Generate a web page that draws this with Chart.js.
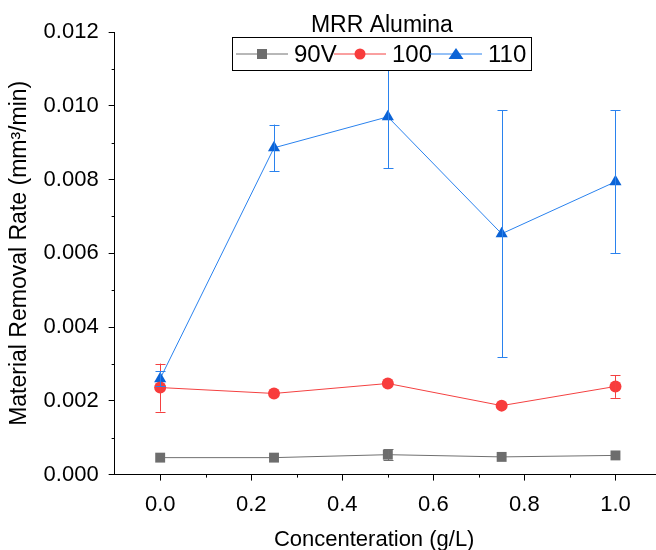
<!DOCTYPE html>
<html>
<head>
<meta charset="utf-8">
<script src="https://cdn.jsdelivr.net/npm/chart.js@4.4.0/dist/chart.umd.min.js"></script>
<style>
  html, body { margin: 0; padding: 0; background: #fff; overflow: hidden; }
  #wrap { width: 656px; height: 550px; overflow: hidden; }
</style>
</head>
<body>
<div id="wrap"><canvas id="mrrChart" width="668" height="550"></canvas></div>
<script>
// concentration values (g/L)
const concentrations = [0.0, 0.25, 0.5, 0.75, 1.0];

// MRR values per voltage (mm3/min)
const mrr90 = [0.00046, 0.00046, 0.00054, 0.00048, 0.00052];
const mrr100 = [0.00236, 0.00220, 0.00247, 0.00187, 0.00239];
const mrr110 = [0.00260, 0.00886, 0.00970, 0.00653, 0.00794];

// error bar half-widths
const err90 = [0, 0, 0.00015, 0, 0];
const err100 = [0.00065, 0, 0, 0, 0.00031];
const err110 = [0.00020, 0.00063, 0.00140, 0.00335, 0.00194];

const xTicks = [0.0, 0.2, 0.4, 0.6, 0.8, 1.0];
const yTicks = [0.000, 0.002, 0.004, 0.006, 0.008, 0.010, 0.012];

const seriesNames = ['90V', '100', '110'];
const legendTitle = 'MRR Alumina';
const xTitle = 'Concenteration (g/L)';

const FONT = "'Liberation Sans', Arial, sans-serif";

function toPoints(vals) {
    return concentrations.map((c, i) => ({ x: c, y: vals[i] }));
}

// draws error bars, minor ticks, x title and the boxed legend
const extrasPlugin = {
    id: 'extras',
    afterDatasetsDraw(chart) {
        const ctx = chart.ctx;
        const xs = chart.scales.x, ys = chart.scales.y;
        const errs = [err90, err100, err110];
        ctx.save();
        chart.data.datasets.forEach((ds, di) => {
            ctx.strokeStyle = ds.borderColor;
            ctx.lineWidth = 1;
            ds.data.forEach((p, i) => {
                const e = errs[di][i];
                if (!e) return;
                const px = Math.round(xs.getPixelForValue(p.x)) + 0.5;
                const top = ys.getPixelForValue(p.y + e);
                const bot = ys.getPixelForValue(p.y - e);
                ctx.beginPath();
                ctx.moveTo(px, top); ctx.lineTo(px, bot);
                ctx.moveTo(px - 5, Math.round(top) + 0.5); ctx.lineTo(px + 5, Math.round(top) + 0.5);
                ctx.moveTo(px - 5, Math.round(bot) + 0.5); ctx.lineTo(px + 5, Math.round(bot) + 0.5);
                ctx.stroke();
            });
        });
        ctx.restore();
    },
    afterDraw(chart) {
        const ctx = chart.ctx;
        const xs = chart.scales.x, ys = chart.scales.y;
        const area = chart.chartArea;
        ctx.save();
        // minor ticks
        ctx.strokeStyle = '#000';
        ctx.lineWidth = 1;
        ctx.beginPath();
        for (let v = 0.001; v < 0.012; v += 0.002) {
            const py = Math.round(ys.getPixelForValue(v)) + 0.5;
            ctx.moveTo(area.left, py); ctx.lineTo(area.left - 3, py);
        }
        for (let v = 0.1; v <= 1.0; v += 0.2) {
            const px = Math.round(xs.getPixelForValue(v)) + 0.5;
            ctx.moveTo(px, area.bottom); ctx.lineTo(px, area.bottom + 3);
        }
        ctx.stroke();

        // x axis title
        ctx.fillStyle = '#000';
        ctx.font = '22px ' + FONT;
        ctx.textAlign = 'center';
        ctx.textBaseline = 'alphabetic';
        ctx.fillText(xTitle, area.left + (area.right - area.left) * 0.475, chart.height - 4);

        // legend
        const cx = (area.left + area.right) / 2 - 6;
        const boxL = Math.round(cx - 149.5), boxT = Math.round(area.top + 5), boxW = 299, boxH = 33;
        ctx.font = '23px ' + FONT;
        ctx.textBaseline = 'middle';
        ctx.fillText(legendTitle, cx, area.top - 6);
        ctx.fillStyle = '#fff';
        ctx.fillRect(boxL, boxT, boxW, boxH);
        ctx.strokeStyle = '#000';
        ctx.strokeRect(boxL + 0.5, boxT + 0.5, boxW, boxH);
        const midY = boxT + boxH / 2 + 0.5;
        const offsets = [4, 102, 198];
        chart.data.datasets.forEach((ds, i) => {
            const x0 = boxL + offsets[i];
            ctx.strokeStyle = ds.borderColor;
            ctx.beginPath();
            ctx.moveTo(x0, midY); ctx.lineTo(x0 + 52, midY);
            ctx.stroke();
            const mx = x0 + 26;
            ctx.fillStyle = ds.pointBackgroundColor;
            ctx.beginPath();
            if (ds.pointStyle === 'rect') {
                ctx.rect(mx - 5, midY - 5, 10, 10);
            } else if (ds.pointStyle === 'circle') {
                ctx.arc(mx, midY, 5.5, 0, Math.PI * 2);
            } else {
                ctx.moveTo(mx, midY - 6); ctx.lineTo(mx + 7.5, midY + 5); ctx.lineTo(mx - 7.5, midY + 5); ctx.closePath();
            }
            ctx.fill();
            ctx.fillStyle = '#000';
            ctx.font = '24px ' + FONT;
            ctx.textAlign = 'left';
            ctx.fillText(seriesNames[i], x0 + 58, midY + 1);
        });
        ctx.restore();
    }
};

const ctx = document.getElementById('mrrChart').getContext('2d');
const mrrChart = new Chart(ctx, {
    type: 'line',
    data: {
        datasets: [
            {
                label: seriesNames[0],
                data: toPoints(mrr90),
                borderColor: '#707070',
                backgroundColor: '#6d6d6d',
                pointBackgroundColor: '#6d6d6d',
                pointBorderWidth: 0,
                pointStyle: 'rect',
                pointRadius: 7,
                borderWidth: 1,
            },
            {
                label: seriesNames[1],
                data: toPoints(mrr100),
                borderColor: '#f44141',
                backgroundColor: '#f83c3c',
                pointBackgroundColor: '#f83c3c',
                pointBorderWidth: 0,
                pointStyle: 'circle',
                pointRadius: 6,
                borderWidth: 1,
            },
            {
                label: seriesNames[2],
                data: toPoints(mrr110),
                borderColor: '#2a82ee',
                backgroundColor: '#0b63d6',
                pointBackgroundColor: '#0b63d6',
                pointBorderWidth: 0,
                pointStyle: 'triangle',
                pointRadius: 7,
                borderWidth: 1,
            },
        ],
    },
    options: {
        animation: false,
        responsive: false,
        clip: false,
        layout: { padding: { top: 32, right: 4, left: 1, bottom: 21 } },
        plugins: {
            legend: { display: false },
            tooltip: { enabled: false },
        },
        scales: {
            x: {
                type: 'linear',
                min: -0.1,
                max: 1.1,
                afterBuildTicks: scale => { scale.ticks = xTicks.map(v => ({ value: v })); },
                ticks: {
                    color: '#000',
                    font: { family: FONT, size: 22 },
                    padding: 11,
                    maxRotation: 0,
                    callback: v => v.toFixed(1),
                },
                grid: { display: true, drawOnChartArea: false, tickLength: 6, color: '#000' },
                border: { display: true, color: '#000', width: 1 },
                title: { display: false },
            },
            y: {
                type: 'linear',
                min: 0,
                max: 0.012,
                afterBuildTicks: scale => { scale.ticks = yTicks.map(v => ({ value: v })); },
                ticks: {
                    color: '#000',
                    font: { family: FONT, size: 22 },
                    padding: 10,
                    callback: v => v.toFixed(3),
                },
                grid: { display: true, drawOnChartArea: false, tickLength: 6, color: '#000' },
                border: { display: true, color: '#000', width: 1 },
                title: {
                    display: true,
                    text: 'Material Removal Rate (mm\u00B3/min)',
                    color: '#000',
                    font: { family: FONT, size: 23 },
                    padding: { top: 5, bottom: 0 },
                },
            },
        },
    },
    plugins: [extrasPlugin],
});
</script>
</body>
</html>
